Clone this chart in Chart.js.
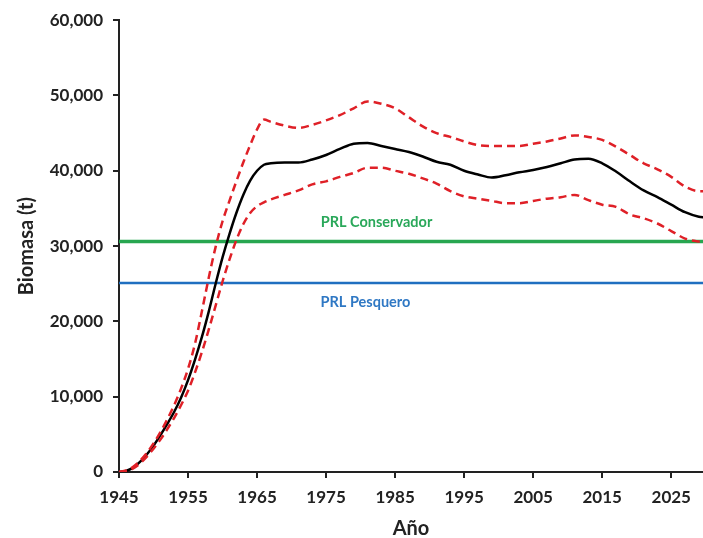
<!DOCTYPE html>
<html>
<head>
<meta charset="utf-8">
<script src="https://cdn.jsdelivr.net/npm/chart.js@4/dist/chart.umd.min.js"></script>
<style>
  html, body { margin: 0; padding: 0; background: #fff; }
  #wrap { position: relative; width: 703px; height: 538px; }
</style>
</head>
<body>
<div id="wrap"><canvas id="biomasa"></canvas></div>
<script>
// Data
var years = [1945, 1946, 1947, 1948, 1949, 1950, 1951, 1952, 1953, 1954, 1955, 1956, 1957, 1958, 1959,
  1960, 1961, 1962, 1963, 1964, 1965, 1966, 1967, 1969, 1971, 1973, 1975, 1977, 1979, 1981, 1983,
  1985, 1987, 1989, 1991, 1993, 1995, 1997, 1999, 2001, 2003, 2005, 2007, 2009, 2011, 2013, 2015,
  2017, 2019, 2021, 2023, 2025, 2027, 2029, 2030];
var biomasa = [0, 150, 550, 1300, 2300, 3500, 4900, 6400, 8000, 9900, 12200, 14900, 17900, 21300, 25000,
  28500, 31600, 34400, 36800, 38700, 40000, 40800, 41000, 41100, 41100, 41500, 42100, 42900, 43600, 43700, 43300,
  42900, 42500, 41900, 41200, 40800, 40000, 39500, 39100, 39400, 39800, 40100, 40500, 41000, 41500, 41600, 41000,
  39900, 38600, 37400, 36500, 35500, 34500, 33900, 33800];
var limiteSup = [0, 200, 650, 1450, 2500, 3800, 5300, 7000, 8900, 11100, 13700, 17000, 21300, 25800, 29900,
  33300, 36000, 38600, 41100, 43400, 45500, 46800, 46500, 46000, 45700, 46100, 46700, 47400, 48300, 49200, 48900,
  48300, 47100, 45900, 45000, 44500, 43900, 43400, 43300, 43300, 43300, 43600, 43900, 44300, 44700, 44500, 44100,
  43200, 42100, 41000, 40200, 39200, 37900, 37300, 37300];
var limiteInf = [0, 100, 450, 1100, 2000, 3100, 4300, 5700, 7200, 8900, 10800, 13200, 15900, 18900, 22100,
  25300, 28200, 30800, 32900, 34400, 35300, 35800, 36200, 36800, 37400, 38200, 38600, 39200, 39700, 40400, 40400,
  40000, 39600, 39000, 38300, 37300, 36600, 36300, 36000, 35700, 35700, 36000, 36300, 36500, 36800, 36100, 35500,
  35200, 34200, 33700, 33000, 32000, 31000, 30600, 30500];
var prlConservador = 30600;
var prlPesquero = 25100;
var xTicks = [1945, 1955, 1965, 1975, 1985, 1995, 2005, 2015, 2025];
var yTicks = [0, 10000, 20000, 30000, 40000, 50000, 60000];

function toPoints(vals) {
  return years.map(function (yr, i) { return { x: yr, y: vals[i] }; });
}
function flat(v) {
  return [{ x: 1945, y: v }, { x: 2030, y: v }];
}

var txt = '#222';
var fontFam = 'Lato, "Open Sans", sans-serif';

// labels for the two reference lines
var refLabels = {
  id: 'refLabels',
  afterDatasetsDraw: function (chart) {
    var c = chart.ctx, xs = chart.scales.x, ys = chart.scales.y;
    c.save();
    c.font = 'bold 14.5px ' + fontFam;
    c.textAlign = 'center';
    c.textBaseline = 'middle';
    c.fillStyle = '#2aa85a';
    c.fillText('PRL Conservador', xs.getPixelForValue(1982.3), ys.getPixelForValue(33100));
    c.fillStyle = '#2f78c4';
    c.fillText('PRL Pesquero', xs.getPixelForValue(1980.7), ys.getPixelForValue(22500));
    c.restore();
  }
};

var ctx = document.getElementById('biomasa').getContext('2d');
var chart = new Chart(ctx, {
  type: 'line',
  data: {
    datasets: [
      {
        label: 'Límite superior',
        data: toPoints(limiteSup),
        borderColor: '#df2027',
        borderWidth: 2.5,
        borderDash: [8, 5],
        pointRadius: 0,
        cubicInterpolationMode: 'monotone',
        order: 1
      },
      {
        label: 'Límite inferior',
        data: toPoints(limiteInf),
        borderColor: '#df2027',
        borderWidth: 2.5,
        borderDash: [8, 5],
        pointRadius: 0,
        cubicInterpolationMode: 'monotone',
        order: 1
      },
      {
        label: 'Biomasa',
        data: toPoints(biomasa),
        borderColor: '#000',
        borderWidth: 2.5,
        pointRadius: 0,
        cubicInterpolationMode: 'monotone',
        order: 2
      },
      {
        label: 'PRL Conservador',
        data: flat(prlConservador),
        borderColor: '#27a650',
        borderWidth: 3.5,
        pointRadius: 0,
        order: 3
      },
      {
        label: 'PRL Pesquero',
        data: flat(prlPesquero),
        borderColor: '#1f6fc0',
        borderWidth: 2.5,
        pointRadius: 0,
        order: 3
      }
    ]
  },
  options: {
    responsive: true,
    maintainAspectRatio: false,
    animation: false,
    layout: { padding: { top: 20, right: 0, left: 0, bottom: 0 } },
    plugins: {
      legend: { display: false },
      tooltip: { enabled: false }
    },
    scales: {
      x: {
        type: 'linear',
        min: 1945,
        max: 2029.6,
        afterBuildTicks: function (scale) {
          scale.ticks = xTicks.map(function (v) { return { value: v }; });
        },
        afterFit: function (scale) { scale.height = 66; },
        border: { display: true, color: '#222', width: 2 },
        grid: { display: true, drawOnChartArea: false, drawTicks: true, tickLength: 6, color: '#222', lineWidth: 2 },
        ticks: {
          color: txt,
          padding: 9,
          maxRotation: 0,
          font: { family: fontFam, size: 17, weight: 'bold' },
          callback: function (v) { return String(v); }
        },
        title: {
          display: true,
          text: 'Año',
          color: txt,
          padding: { top: 0, bottom: -3 },
          font: { family: fontFam, size: 20, weight: 'bold' }
        }
      },
      y: {
        min: 0,
        max: 60000,
        afterBuildTicks: function (scale) {
          scale.ticks = yTicks.map(function (v) { return { value: v }; });
        },
        afterFit: function (scale) { scale.width = 119; },
        border: { display: true, color: '#222', width: 2 },
        grid: { display: true, drawOnChartArea: false, drawTicks: true, tickLength: 6, color: '#222', lineWidth: 2 },
        ticks: {
          color: txt,
          padding: 10,
          font: { family: fontFam, size: 17, weight: 'bold' },
          callback: function (v) { return v.toLocaleString('en-US'); }
        },
        title: {
          display: true,
          text: 'Biomasa (t)',
          color: txt,
          padding: { top: 15, bottom: 0 },
          font: { family: fontFam, size: 20, weight: 'bold' }
        }
      }
    }
  },
  plugins: [refLabels]
});
</script>
</body>
</html>
